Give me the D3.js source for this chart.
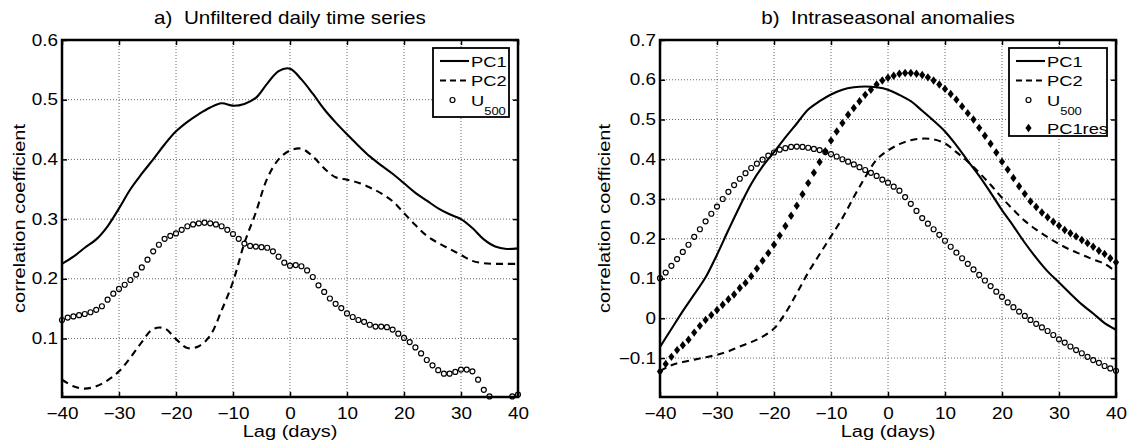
<!DOCTYPE html>
<html>
<head>
<meta charset="utf-8">
<script src="https://cdn.jsdelivr.net/npm/d3@7"></script>
<style>
  body { margin: 0; background: #fff; }
  svg { font-family: "Liberation Sans", Arial, Helvetica, sans-serif; }
  svg text { white-space: pre; fill: #000; }
</style>
</head>
<body>
<div id="chart"></div>
<script>
// lag axis (days): lines are read every 2 days, markers every day
const lagsEven = d3.range(-40, 41, 2);
const lagsDaily = d3.range(-40, 41, 1);

//------------------ a) unfiltered daily time series ------------------//
const aPC1 = [0.225, 0.237, 0.252, 0.266, 0.288, 0.318, 0.350, 0.376, 0.400, 0.425,
  0.447, 0.463, 0.476, 0.487, 0.494, 0.490, 0.493, 0.503, 0.527, 0.548,
  0.552, 0.534, 0.510, 0.484, 0.462, 0.442, 0.423, 0.405, 0.390, 0.376,
  0.360, 0.344, 0.331, 0.318, 0.308, 0.300, 0.285, 0.266, 0.254, 0.250, 0.251];

const aPC2 = [0.031, 0.020, 0.016, 0.020, 0.030, 0.045, 0.068, 0.094, 0.116, 0.117,
  0.099, 0.084, 0.087, 0.105, 0.147, 0.195, 0.260, 0.311, 0.368, 0.400,
  0.415, 0.418, 0.405, 0.385, 0.370, 0.366, 0.361, 0.353, 0.343, 0.330,
  0.310, 0.290, 0.272, 0.260, 0.250, 0.240, 0.230, 0.226, 0.225, 0.225, 0.225];

const aU500 = [0.131, 0.135, 0.137, 0.139, 0.141, 0.144, 0.148, 0.154, 0.165, 0.175,
  0.183, 0.190, 0.198, 0.207, 0.219, 0.232, 0.246, 0.257, 0.267, 0.272,
  0.276, 0.282, 0.288, 0.291, 0.293, 0.294, 0.293, 0.291, 0.288, 0.282,
  0.275, 0.267, 0.259, 0.255, 0.254, 0.253, 0.252, 0.246, 0.237, 0.227,
  0.222, 0.223, 0.221, 0.214, 0.203, 0.189, 0.178, 0.167, 0.158, 0.151,
  0.142, 0.136, 0.131, 0.128, 0.123, 0.120, 0.120, 0.119, 0.115, 0.108,
  0.101, 0.094, 0.085, 0.075, 0.064, 0.055, 0.047, 0.041, 0.041, 0.044,
  0.048, 0.048, 0.045, 0.031, 0.014, 0.003, -0.010, -0.015, -0.010, 0.003, 0.006];

//------------------ b) intraseasonal anomalies ------------------//
const bPC1 = [-0.072, -0.027, 0.018, 0.060, 0.103, 0.160, 0.222, 0.282, 0.338, 0.382,
  0.418, 0.455, 0.490, 0.525, 0.546, 0.563, 0.575, 0.581, 0.583, 0.581,
  0.575, 0.562, 0.546, 0.522, 0.497, 0.470, 0.435, 0.396, 0.358, 0.316,
  0.272, 0.232, 0.190, 0.152, 0.118, 0.090, 0.062, 0.035, 0.012, -0.012, -0.029];

const bPC2 = [-0.133, -0.118, -0.110, -0.104, -0.098, -0.092, -0.083, -0.071, -0.060, -0.046,
  -0.026, 0.013, 0.063, 0.115, 0.161, 0.206, 0.252, 0.305, 0.355, 0.399,
  0.422, 0.438, 0.448, 0.452, 0.450, 0.440, 0.418, 0.394, 0.366, 0.336,
  0.303, 0.273, 0.245, 0.223, 0.204, 0.187, 0.172, 0.160, 0.148, 0.137, 0.117];

const bU500 = [0.101, 0.115, 0.132, 0.149, 0.167, 0.185, 0.205, 0.224, 0.244, 0.263,
  0.281, 0.300, 0.318, 0.335, 0.351, 0.365, 0.378, 0.389, 0.399, 0.409,
  0.417, 0.424, 0.428, 0.431, 0.432, 0.431, 0.429, 0.426, 0.423, 0.418,
  0.413, 0.407, 0.400, 0.394, 0.387, 0.380, 0.373, 0.366, 0.358, 0.349,
  0.341, 0.331, 0.321, 0.305, 0.288, 0.270, 0.252, 0.238, 0.224, 0.210,
  0.195, 0.180, 0.165, 0.151, 0.137, 0.123, 0.109, 0.095, 0.081, 0.067,
  0.054, 0.040, 0.028, 0.017, 0.006, -0.004, -0.014, -0.023, -0.032, -0.042,
  -0.053, -0.061, -0.071, -0.080, -0.088, -0.097, -0.105, -0.112, -0.120, -0.126, -0.132];

const bPC1res = [-0.134, -0.115, -0.097, -0.080, -0.068, -0.054, -0.036, -0.019, -0.004, 0.008,
  0.021, 0.034, 0.048, 0.060, 0.076, 0.089, 0.106, 0.125, 0.145, 0.164,
  0.185, 0.208, 0.232, 0.258, 0.283, 0.312, 0.340, 0.366, 0.393, 0.420,
  0.447, 0.470, 0.491, 0.512, 0.529, 0.546, 0.562, 0.575, 0.588, 0.598,
  0.605, 0.610, 0.615, 0.617, 0.617, 0.615, 0.612, 0.606, 0.598, 0.588,
  0.577, 0.564, 0.550, 0.533, 0.516, 0.500, 0.479, 0.459, 0.439, 0.417,
  0.394, 0.374, 0.353, 0.332, 0.313, 0.294, 0.280, 0.266, 0.254, 0.243,
  0.233, 0.222, 0.214, 0.206, 0.197, 0.189, 0.180, 0.170, 0.162, 0.151, 0.141];

const xTicks = [-40, -30, -20, -10, 0, 10, 20, 30, 40];
const aYTicks = [0.1, 0.2, 0.3, 0.4, 0.5, 0.6];
const bYTicks = [-0.1, 0, 0.1, 0.2, 0.3, 0.4, 0.5, 0.6, 0.7];

const W = 1128, H = 444;
const S = 1.18;   // the original figure's text is a bit wider than Arial
const svg = d3.select("#chart").append("svg")
  .attr("width", W)
  .attr("height", H);

const diamondPath = "M0,-4.2L3.1,0L0,4.2L-3.1,0Z";
const fmtY = d => d === 0 ? "0" : d3.format(".1f")(d);

// text placed at (x,y), widened by S
function addText(parent, x, y, str, size, anchor, rot) {
  return parent.append("text")
    .attr("transform", "translate(" + x + "," + y + ")" + (rot ? " rotate(" + rot + ")" : "") + " scale(" + S + ",1)")
    .attr("text-anchor", anchor || "start")
    .style("font-size", size + "px")
    .text(str);
}

function drawPanel(p) {
  const x = d3.scaleLinear().domain([-40, 40]).range([p.left, p.right]);
  const y = d3.scaleLinear().domain(p.yDomain).range([p.bottom, p.top]);
  const g = svg.append("g");

  // clip for the lines
  const clipId = "clip_" + p.id;
  svg.append("clipPath").attr("id", clipId)
    .append("rect")
    .attr("x", p.left).attr("y", p.top)
    .attr("width", p.right - p.left).attr("height", p.bottom - p.top);

  // dotted grid
  g.append("g").selectAll("line")
    .data(xTicks.slice(1, -1))
    .enter().append("line")
    .attr("x1", d => x(d)).attr("x2", d => x(d))
    .attr("y1", p.top).attr("y2", p.bottom)
    .attr("stroke", "#666").attr("stroke-width", 1)
    .attr("stroke-dasharray", "1,2");
  g.append("g").selectAll("line")
    .data(p.yTicks)
    .enter().append("line")
    .attr("x1", p.left).attr("x2", p.right)
    .attr("y1", d => y(d)).attr("y2", d => y(d))
    .attr("stroke", "#666").attr("stroke-width", 1)
    .attr("stroke-dasharray", "1,2");

  // axes, ticks inside on all four sides
  const tickLen = 5;
  const bottomAx = g.append("g")
    .attr("transform", "translate(0," + p.bottom + ")")
    .call(d3.axisBottom(x).tickValues(xTicks).tickSizeInner(-tickLen).tickSizeOuter(0).tickPadding(11));
  const topAx = g.append("g")
    .attr("transform", "translate(0," + p.top + ")")
    .call(d3.axisTop(x).tickValues(xTicks).tickSizeInner(-tickLen).tickSizeOuter(0).tickFormat(""));
  const leftAx = g.append("g")
    .attr("transform", "translate(" + p.left + ",0)")
    .call(d3.axisLeft(y).tickValues(p.yTicks).tickSizeInner(-tickLen).tickSizeOuter(0).tickFormat(fmtY));
  const rightAx = g.append("g")
    .attr("transform", "translate(" + p.right + ",0)")
    .call(d3.axisRight(y).tickValues(p.yTicks).tickSizeInner(-tickLen).tickSizeOuter(0).tickFormat(""));

  [bottomAx, topAx, leftAx, rightAx].forEach(ax => {
    ax.select(".domain").remove();
    ax.selectAll(".tick line").attr("stroke", "#000").attr("stroke-width", 1.5);
    ax.selectAll("text")
      .style("font-size", "16px")
      .style("font-family", "'Liberation Sans', Arial, Helvetica, sans-serif")
      .attr("fill", "#000")
      .attr("transform", "scale(" + S + ",1)");
  });
  leftAx.selectAll("text").attr("x", -4 / S);

  // series
  const line = d3.line()
    .x(d => x(d[0]))
    .y(d => y(d[1]))
    .curve(d3.curveCatmullRom);

  p.series.forEach(s => {
    const pts = s.lags.map((l, i) => [l, s.values[i]]);
    if (s.kind === "solid" || s.kind === "dash") {
      g.append("path")
        .datum(pts)
        .attr("clip-path", "url(#" + clipId + ")")
        .attr("d", line)
        .attr("fill", "none")
        .attr("stroke", "#000")
        .attr("stroke-width", 2.1)
        .attr("stroke-dasharray", s.kind === "dash" ? "7,5" : null);
    } else {
      const inside = pts.filter(d => d[1] >= p.yDomain[0] && d[1] <= p.yDomain[1]);
      if (s.kind === "circle") {
        g.append("g").selectAll("circle")
          .data(inside)
          .enter().append("circle")
          .attr("cx", d => x(d[0]))
          .attr("cy", d => y(d[1]))
          .attr("r", 2.5)
          .attr("fill", "none")
          .attr("stroke", "#000")
          .attr("stroke-width", 1.2);
      } else {
        g.append("g").selectAll("path")
          .data(inside)
          .enter().append("path")
          .attr("transform", d => "translate(" + x(d[0]) + "," + y(d[1]) + ")")
          .attr("d", diamondPath)
          .attr("fill", "#000");
      }
    }
  });

  // box
  g.append("rect")
    .attr("x", p.left).attr("y", p.top)
    .attr("width", p.right - p.left).attr("height", p.bottom - p.top)
    .attr("fill", "none").attr("stroke", "#000").attr("stroke-width", 2.5);

  // title and axis labels
  const cx = (p.left + p.right) / 2;
  addText(svg, cx, 24, p.title, 17.5, "middle");
  addText(svg, cx, 437, "Lag (days)", 17, "middle");
  addText(svg, p.yLabelX, (p.top + p.bottom) / 2, "correlation coefficient", 17, "middle", -90);

  // legend
  const L = p.legend;
  const lg = svg.append("g");
  lg.append("rect")
    .attr("x", L.x).attr("y", L.y)
    .attr("width", L.w).attr("height", L.h)
    .attr("fill", "#fff").attr("stroke", "#000").attr("stroke-width", 1.8);

  p.series.forEach((s, i) => {
    const ey = L.rows[i];
    const x0 = L.x + 7, x1 = L.x + 36, xm = (x0 + x1) / 2 - 2;
    if (s.kind === "solid" || s.kind === "dash") {
      lg.append("line")
        .attr("x1", x0).attr("x2", x1)
        .attr("y1", ey).attr("y2", ey)
        .attr("stroke", "#000").attr("stroke-width", 2.1)
        .attr("stroke-dasharray", s.kind === "dash" ? "6,4" : null);
    } else if (s.kind === "circle") {
      lg.append("circle")
        .attr("cx", xm).attr("cy", ey).attr("r", 2.5)
        .attr("fill", "none").attr("stroke", "#000").attr("stroke-width", 1.2);
    } else {
      lg.append("path")
        .attr("transform", "translate(" + xm + "," + ey + ")")
        .attr("d", diamondPath).attr("fill", "#000");
    }
    const t = addText(lg, x1 + 2, ey + 5.8, s.sub ? null : s.name, 15.5);
    if (s.sub) {
      t.append("tspan").text(s.name);
      t.append("tspan").attr("dy", 9.5).style("font-size", "11px").attr("fill", "#000").text(s.sub);
    }
  });
}

drawPanel({
  id: "a",
  left: 62, right: 518, top: 40, bottom: 397,
  yDomain: [0.002, 0.6],
  yTicks: aYTicks,
  yLabelX: 25,
  title: "a)  Unfiltered daily time series",
  series: [
    { name: "PC1", kind: "solid", lags: lagsEven, values: aPC1 },
    { name: "PC2", kind: "dash", lags: lagsEven, values: aPC2 },
    { name: "U", sub: "500", kind: "circle", lags: lagsDaily, values: aU500 }
  ],
  legend: { x: 433, y: 48, w: 76, h: 69, rows: [61, 80.5, 100] }
});

drawPanel({
  id: "b",
  left: 660, right: 1116, top: 40, bottom: 397,
  yDomain: [-0.198, 0.7],
  yTicks: bYTicks,
  yLabelX: 610,
  title: "b)  Intraseasonal anomalies",
  series: [
    { name: "PC1", kind: "solid", lags: lagsEven, values: bPC1 },
    { name: "PC2", kind: "dash", lags: lagsEven, values: bPC2 },
    { name: "U", sub: "500", kind: "circle", lags: lagsDaily, values: bU500 },
    { name: "PC1res", kind: "diamond", lags: lagsDaily, values: bPC1res }
  ],
  legend: { x: 1009, y: 48, w: 98, h: 88, rows: [61, 80.5, 100, 128] }
});
</script>
</body>
</html>
